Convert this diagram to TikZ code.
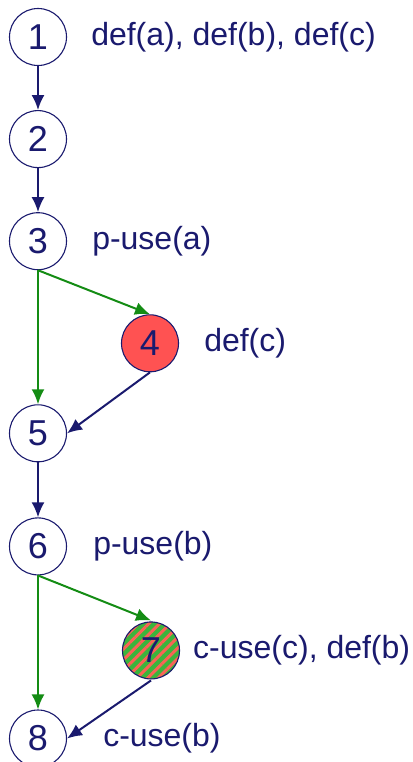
\documentclass[tikz,border=0pt]{standalone}
\usepackage{fontspec}
\setmainfont{Liberation Sans}
\usetikzlibrary{positioning,arrows.meta,patterns.meta}
\definecolor{navy}{RGB}{26,26,110}
\definecolor{flowgreen}{RGB}{20,140,20}
\definecolor{defred}{RGB}{255,82,82}
\definecolor{usegreen}{RGB}{60,180,60}
\definecolor{stripered}{RGB}{250,100,85}

\begin{document}
\begin{tikzpicture}[x=1pt, y=1pt,
    block/.style={draw=navy, circle, line width=1.1pt, minimum size=57pt, inner sep=0pt, text=navy, font=\fontsize{36}{40}\selectfont},
    note/.style={inner sep=0pt, anchor=west, text=navy, font=\fontsize{32}{36}\selectfont},
    ctrl/.style={-{Latex[length=15pt,width=13pt]}, line width=2pt, flowgreen},
    flow/.style={-{Latex[length=15pt,width=13pt]}, line width=2pt, navy}]
    \useasboundingbox (0,0) rectangle (412,-762);

    \node [block] (n1) at (38,-37) {1};
    \node [block, below=44pt of n1] (n2) {2};
    \node [block, below=44pt of n2] (n3) {3};
    \node [block, fill=defred, below=44pt of n3, xshift=112pt] (n4) {4};
    \node [block, below=134pt of n3] (n5) {5};
    \node [block, below=55pt of n5] (n6) {6};
    \node [block, below=45pt of n6, xshift=113pt, preaction={fill=usegreen},
           pattern={Lines[angle=45,distance=7.5pt,line width=3pt]}, pattern color=stripered] (n7) {7};
    \node [block, below=134pt of n6] (n8) {8};

    \node [note, right=24pt of n1] (l1) {def(a), def(b), def(c)};
    \node [note, right=25pt of n3] (l3) {p-use(a)};
    \node [note, right=25pt of n4] (l4) {def(c)};
    \node [note, right=26pt of n6] (l6) {p-use(b)};
    \node [note, right=12pt of n7] (l7) {c-use(c), def(b)};
    \node [note, right=36pt of n8] (l8) {c-use(b)};

    \draw [flow] (n1) -- (n2);
    \draw [flow] (n2) -- (n3);
    \draw [ctrl] (n3.south) -- (n4.north);
    \draw [ctrl] (n3) -- (n5);
    \draw [flow] (n4.south) -- (n5.east);
    \draw [flow] (n5) -- (n6);
    \draw [ctrl] (n6.south) -- (n7.north);
    \draw [ctrl] (n6) -- (n8);
    \draw [flow] (n7.south) -- (n8.east);
\end{tikzpicture}
\end{document}
